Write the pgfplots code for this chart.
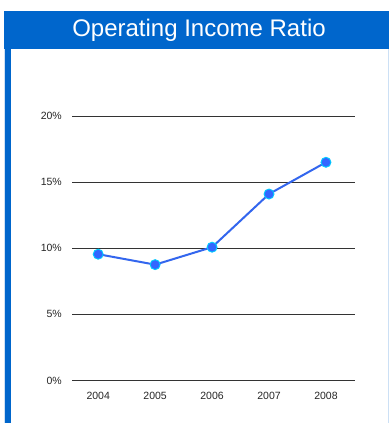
\documentclass[border=0pt]{standalone}
\usepackage{fontspec}
\setmainfont{Liberation Sans}
\usepackage{pgfplots}
\pgfplotsset{compat=1.18}
\definecolor{frameblue}{HTML}{0066CC}
\definecolor{edgeblue}{HTML}{CCE0F5}
\definecolor{lineblue}{HTML}{3366EE}
\definecolor{markblue}{HTML}{3366FF}
\definecolor{markedge}{HTML}{00CCFF}
\begin{document}
\begin{tikzpicture}[x=1pt,y=1pt]
\path[use as bounding box, fill=white] (0,0) rectangle (389,423);
% left blue bar
\fill[edgeblue] (3.8,0) rectangle (11.2,412);
\fill[frameblue] (4.5,0) rectangle (10.5,412);
% right thin line
\fill[edgeblue] (387.6,0) rectangle (389,374);
% title bar
\fill[frameblue] (4,374) rectangle (389,412);
\node[text=white, font=\fontsize{24}{26}\selectfont] at (199,392.5) {Operating Income Ratio};
\begin{axis}[
  at={(72pt,42.5pt)}, anchor=south west,
  scale only axis, width=283pt, height=264.5pt,
  xmin=-0.46, xmax=4.51, ymin=0, ymax=20,
  axis line style={draw=none},
  tick style={draw=none},
  xtick={0,1,2,3,4},
  xticklabels={2004,2005,2006,2007,2008},
  ytick={0,5,10,15,20},
  yticklabel={\pgfmathprintnumber{\tick}\%},
  /pgf/number format/assume math mode=true,
  ticklabel style={font=\fontsize{10.5}{12}\selectfont, text=black!85},
  yticklabel style={anchor=east, inner sep=0pt, xshift=-10pt},
  xticklabel style={anchor=north, inner sep=0pt, yshift=-11pt},
  ymajorgrids,
  grid style={black!80, line width=0.9pt},
  clip=false,
]
\addplot[lineblue, line width=2pt, mark=*, mark size=5pt,
  mark options={fill=markblue, draw=markedge, line width=0.9pt}]
  coordinates {(0,9.55) (1,8.76) (2,10.08) (3,14.1) (4,16.5)};
\end{axis}
\end{tikzpicture}
\end{document}
